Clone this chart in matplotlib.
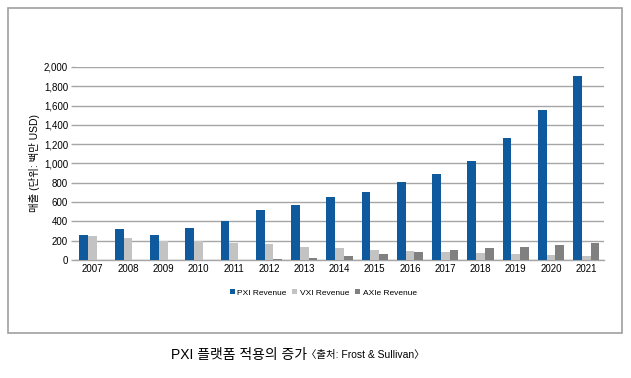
"""Recreate the PXI / VXI / AXIe revenue bar chart."""

import matplotlib

matplotlib.use("Agg")
import matplotlib.pyplot as plt
import numpy as np
from matplotlib.patches import Rectangle

plt.rcParams["font.family"] = ["Liberation Sans", "Noto Sans CJK KR", "DejaVu Sans"]

YEARS = [str(y) for y in range(2007, 2022)]
PXI = [260, 320, 260, 330, 400, 520, 570, 650, 700, 805, 890, 1025, 1260, 1550, 1905]
VXI = [245, 228, 195, 200, 180, 165, 140, 125, 105, 90, 80, 70, 60, 50, 40]
AXIE = [0, 0, 0, 0, 0, 15, 25, 40, 60, 80, 100, 120, 140, 160, 180]

SERIES = [
    ("PXI Revenue", PXI, "#0E5A9C"),
    ("VXI Revenue", VXI, "#C3C3C3"),
    ("AXIe Revenue", AXIE, "#808080"),
]
GRID = "#A6A6A6"


def main():
    fig = plt.figure(figsize=(6.31, 3.78), dpi=100)
    ax = fig.add_axes([0.119, 0.312, 0.838, 0.511])

    x = np.arange(len(YEARS))
    w = 0.25
    for i, (label, vals, color) in enumerate(SERIES):
        ax.bar(x + (i - 1) * w, vals, w, color=color, label=label, zorder=3)

    ax.set_xlim(-0.5, len(YEARS) - 0.5)
    ax.set_ylim(0, 2000)
    ax.set_yticks(range(0, 2001, 200))
    ax.set_yticklabels([f"{v:,}" for v in range(0, 2001, 200)], fontsize=7)
    ax.set_xticks(x)
    ax.set_xticklabels(YEARS, fontsize=7)
    ax.tick_params(axis="x", length=0, pad=3)
    ax.tick_params(axis="y", length=3, color=GRID, width=1, pad=2)
    ax.grid(axis="y", color=GRID, lw=1, zorder=0)
    for side in ("top", "right", "left"):
        ax.spines[side].set_visible(False)
    ax.spines["bottom"].set_color(GRID)
    ax.spines["bottom"].set_linewidth(1)

    ax.set_ylabel("매출 (단위: 백만 USD)", fontsize=7.5, labelpad=3)

    fig.legend(loc="center", bbox_to_anchor=(0.512, 0.225), ncol=3, fontsize=6,
               frameon=False, handlelength=0.6, handleheight=0.6, handletextpad=0.3,
               columnspacing=0.7)

    fig.patches.append(Rectangle((0.0127, 0.119), 0.973, 0.860, transform=fig.transFigure,
                                 fill=False, edgecolor="#A0A0A0", lw=1.2))

    fig.text(0.271, 0.06, "PXI 플랫폼 적용의 증가", fontsize=10, ha="left", va="center")
    fig.text(0.485, 0.06, "〈출처: Frost & Sullivan〉", fontsize=7.5, ha="left", va="center")

    fig.savefig("out.png", dpi=100)


if __name__ == "__main__":
    main()
